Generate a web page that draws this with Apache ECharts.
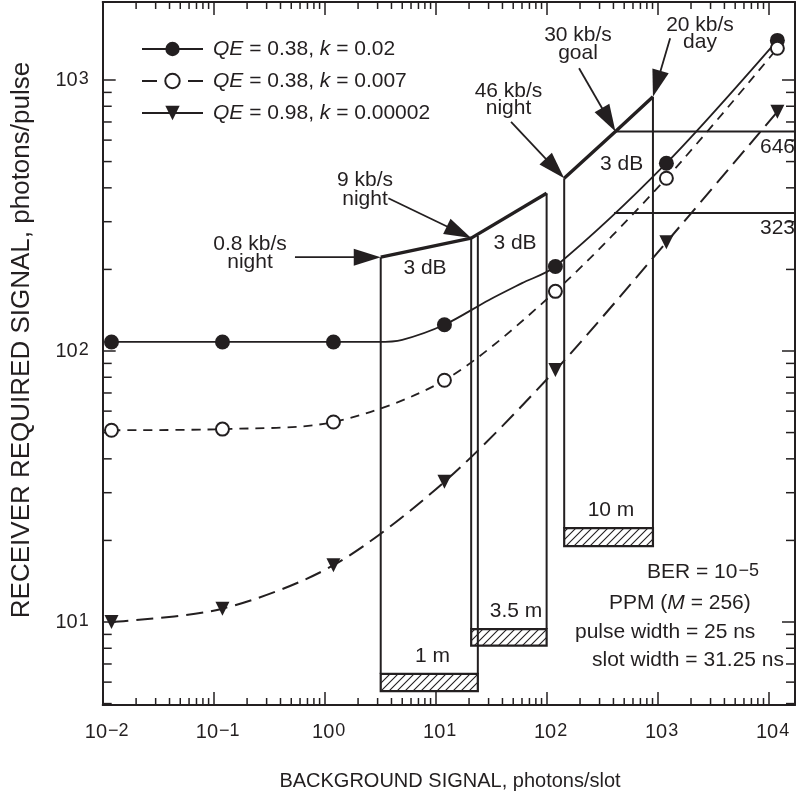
<!DOCTYPE html>
<html><head><meta charset="utf-8">
<script src="https://cdn.jsdelivr.net/npm/echarts@6/dist/echarts.min.js"></script>
<style>html,body{margin:0;padding:0;background:#fff}#c{width:798px;height:794px}</style>
</head><body><div id="c"></div>
<script>
const FONT = '"Liberation Sans", Arial, Helvetica, sans-serif';
const INK = '#231f20';

// ---- axis ranges and tick labels ----
const xRange = [0.01, 17300];
const yRange = [4.94, 1940];
const xDecades = [-2, -1, 0, 1, 2, 3, 4];
const yDecades = [0, 1, 2, 3];
const minorMultipliers = [2, 3, 4, 5, 6, 7, 8, 9];

// ---- series ----
const seriesNames = ['QE = 0.38, k = 0.02', 'QE = 0.38, k = 0.007', 'QE = 0.98, k = 0.00002'];
const markerX = [0.012, 0.12, 1.2, 12, 120, 1200, 12000];
const signalK002 = [108, 108, 108, 125, 205, 493, 1400];
const signalK0007 = [51, 51.5, 54.7, 78, 166, 434, 1309];
const signalK000002 = [10, 11.2, 16.2, 32.9, 85, 252, 764];
// extra points read along the k = 0.02 curve (no marker)
const kneeX = [3, 5, 30, 60];
const kneeY = [108, 110, 154, 178];

// ---- annotation geometry in data units ----
const heavyEdges = [
  [[3.2, 222], [20.9, 261]],
  [[20.9, 261], [100, 382]],
  [[144, 434], [417, 646], [908, 867]]
];
const thinEdges = [
  [[3.2, 6.43], [3.2, 222]],
  [[24, 6.43], [24, 266]],
  [[20.9, 9.42], [20.9, 261]],
  [[100, 9.42], [100, 382]],
  [[144, 22.2], [144, 434]],
  [[908, 22.2], [908, 867]],
  [[417, 646], [17300, 646]],
  [[405, 323], [17300, 323]]
];
const hatchBands = [ // xLeft, xRight, yBottom, yTop
  [3.2, 24, 5.56, 6.43],
  [20.9, 100, 8.18, 9.42],
  [144, 908, 19.05, 22.2]
];
const arrows = [ // tail x, tail y, tip x, tip y
  [0.54, 222, 3.2, 222],
  [3.75, 366, 20.9, 261],
  [47.8, 701, 144, 434],
  [196, 1105, 417, 646],
  [1297, 1426, 908, 867]
];

// ---- helpers ----
function buildCurve(xs, ys, ex, ey) {
  const pts = xs.map((x, i) => ({ value: [x, ys[i]] }));
  if (ex) ex.forEach((x, i) => pts.push({ value: [x, ey[i]], symbol: 'none' }));
  pts.sort((a, b) => a.value[0] - b.value[0]);
  return pts;
}
function minorTicks(decades, range) {
  const out = [];
  decades.forEach(d => minorMultipliers.forEach(m => {
    const v = m * Math.pow(10, d);
    if (v > range[0] && v < range[1]) out.push(v);
  }));
  return out;
}
function powLabel(v) {
  const e = Math.log10(v), r = Math.round(e);
  if (Math.abs(e - r) > 1e-6) return '';
  return '{b|10}{s|' + (r < 0 ? '\u2212' + (-r) : r) + '}';
}
const supRich = {
  b: { fontSize: 20, fontFamily: FONT, color: INK, lineHeight: 20, verticalAlign: 'bottom' },
  s: { fontSize: 18, fontFamily: FONT, color: INK, lineHeight: 18, verticalAlign: 'top', padding: [0, 0, 8, 1] }
};

const TS = 8;
const tile = document.createElement('canvas');
tile.width = tile.height = TS;
(function () {
  const c = tile.getContext('2d');
  c.fillStyle = '#fff'; c.fillRect(0, 0, TS, TS);
  c.strokeStyle = INK; c.lineWidth = 1.1; c.beginPath();
  c.moveTo(0, TS); c.lineTo(TS, 0);
  c.moveTo(-1, 1); c.lineTo(1, -1);
  c.moveTo(TS - 1, TS + 1); c.lineTo(TS + 1, TS - 1);
  c.stroke();
})();

const axisLineStyle = { color: INK, width: 2 };
const tickStyle = { inside: true, length: 13, lineStyle: { color: INK, width: 1.5 } };

function txt(x, y, text, opt) {
  opt = opt || {};
  return {
    type: 'text', x: x, y: y, silent: true, z: 100, rotation: opt.rotation || 0,
    style: {
      text: text, fill: INK, fontSize: opt.size || 21, fontFamily: FONT,
      align: opt.align || 'center', verticalAlign: 'middle',
      textAlign: opt.align || 'center', textVerticalAlign: 'middle',
      rich: opt.rich
    }
  };
}
const annRich = {
  n: { fontSize: 21, fontFamily: FONT, color: INK, lineHeight: 21 },
  i: { fontSize: 21, fontFamily: FONT, color: INK, lineHeight: 21, fontStyle: 'italic' },
  b: { fontSize: 21, fontFamily: FONT, color: INK, lineHeight: 21, verticalAlign: 'bottom' },
  s: { fontSize: 18, fontFamily: FONT, color: INK, lineHeight: 18, verticalAlign: 'top', padding: [0, 0, 8, 1] }
};

const chart = echarts.init(document.getElementById('c'), null, { renderer: 'canvas' });
chart.setOption({
  animation: false,
  backgroundColor: '#fff',
  textStyle: { fontFamily: FONT, color: INK },
  grid: { left: 102.7, right: -1, top: 2, bottom: 89 },
  legend: {
    orient: 'vertical', left: 136, top: 33, itemWidth: 61, itemHeight: 18, itemGap: 10,
    selectedMode: false,
    data: [
      { name: seriesNames[0] },
      { name: seriesNames[1], lineStyle: { type: [15, 31] } },
      { name: seriesNames[2], lineStyle: { type: 'solid' } }
    ],
    textStyle: {
      fontSize: 21, fontFamily: FONT, color: INK, lineHeight: 22, padding: [0, 0, 0, 5],
      rich: { i: { fontSize: 21, fontFamily: FONT, color: INK, lineHeight: 22, fontStyle: 'italic' } }
    },
    formatter: n => n.replace('QE', '{i|QE}').replace('k =', '{i|k} =')
  },
  xAxis: [
    { type: 'log', logBase: 10, min: xRange[0], max: xRange[1], position: 'bottom',
      axisLine: { lineStyle: axisLineStyle }, axisTick: tickStyle, splitLine: { show: false },
      axisLabel: { formatter: powLabel, rich: supRich, margin: 17, interval: 0, padding: [0, 0, 0, 8] } },
    { type: 'log', logBase: 10, min: xRange[0], max: xRange[1], position: 'top',
      axisLine: { lineStyle: axisLineStyle }, axisTick: tickStyle, splitLine: { show: false },
      axisLabel: { show: false } }
  ],
  yAxis: [
    { type: 'log', logBase: 10, min: yRange[0], max: yRange[1], position: 'left',
      axisLine: { lineStyle: axisLineStyle }, axisTick: tickStyle, splitLine: { show: false },
      axisLabel: { formatter: powLabel, rich: supRich, margin: 14, interval: 0 } },
    { type: 'log', logBase: 10, min: yRange[0], max: yRange[1], position: 'right',
      axisLine: { lineStyle: axisLineStyle }, axisTick: tickStyle, splitLine: { show: false },
      axisLabel: { show: false } }
  ],
  graphic: [
    txt(22, 340, 'RECEIVER REQUIRED SIGNAL, photons/pulse', { rotation: Math.PI / 2, size: 26 }),
    txt(450, 781, 'BACKGROUND SIGNAL, photons/slot', { size: 20 }),
    txt(250, 244, '0.8 kb/s'), txt(250, 262, 'night'),
    txt(365, 180, '9 kb/s'), txt(365, 199, 'night'),
    txt(508.5, 91.7, '46 kb/s'), txt(508.5, 108.5, 'night'),
    txt(578, 35, '30 kb/s'), txt(578, 53, 'goal'),
    txt(700, 25, '20 kb/s'), txt(700, 42, 'day'),
    txt(425, 268, '3 dB'), txt(515, 243, '3 dB'), txt(621.7, 164, '3 dB'),
    txt(777.5, 147.5, '646'), txt(777.5, 228, '323'),
    txt(432.5, 656, '1 m'), txt(516, 611, '3.5 m'), txt(611, 510, '10 m'),
    txt(647, 572.5, '{b|BER = 10}{s|\u22125}', { align: 'left', rich: annRich }),
    txt(609, 603, '{n|PPM (}{i|M}{n| = 256)}', { align: 'left', rich: annRich }),
    txt(575, 632, 'pulse width = 25 ns', { align: 'left' }),
    txt(592, 660, 'slot width = 31.25 ns', { align: 'left' })
  ],
  series: [
    { type: 'custom', name: 'xMinor', silent: true, z: 1,
      data: minorTicks(xDecades, xRange).map(v => [v, yRange[0]]),
      renderItem: (p, api) => {
        const v = api.value(0);
        const b = api.coord([v, yRange[0]]), t = api.coord([v, yRange[1]]);
        const st = { stroke: INK, lineWidth: 1.5 };
        return { type: 'group', children: [
          { type: 'line', shape: { x1: b[0], y1: b[1], x2: b[0], y2: b[1] - 7 }, style: st },
          { type: 'line', shape: { x1: t[0], y1: t[1], x2: t[0], y2: t[1] + 7 }, style: st }
        ] };
      } },
    { type: 'custom', name: 'yMinor', silent: true, z: 1,
      data: minorTicks(yDecades, yRange).map(v => [xRange[0], v]),
      renderItem: (p, api) => {
        const v = api.value(1);
        const l = api.coord([xRange[0], v]), r = api.coord([xRange[1], v]);
        const st = { stroke: INK, lineWidth: 1.5 };
        return { type: 'group', children: [
          { type: 'line', shape: { x1: l[0], y1: l[1], x2: l[0] + 9, y2: l[1] }, style: st },
          { type: 'line', shape: { x1: r[0], y1: r[1], x2: r[0] - 9, y2: r[1] }, style: st }
        ] };
      } },
    { type: 'custom', name: 'hatch', silent: true, z: 2,
      data: hatchBands, encode: { x: [0, 1], y: [2, 3] },
      renderItem: (p, api) => {
        const a = api.coord([api.value(0), api.value(2)]);
        const b = api.coord([api.value(1), api.value(3)]);
        return { type: 'rect', shape: { x: a[0], y: b[1], width: b[0] - a[0], height: a[1] - b[1] },
          style: { fill: { image: tile, repeat: 'repeat' }, stroke: INK, lineWidth: 2.2 } };
      } },
    { type: 'custom', name: 'thin', silent: true, z: 2,
      data: thinEdges.map(e => e[0]),
      renderItem: (p, api) => ({ type: 'polyline',
        shape: { points: thinEdges[p.dataIndex].map(pt => api.coord(pt)) },
        style: { stroke: INK, lineWidth: 2, fill: null } }) },
    { type: 'custom', name: 'heavy', silent: true, z: 3,
      data: heavyEdges.map(e => e[0]),
      renderItem: (p, api) => ({ type: 'polyline',
        shape: { points: heavyEdges[p.dataIndex].map(pt => api.coord(pt)) },
        style: { stroke: INK, lineWidth: 3.4, fill: null, lineJoin: 'miter' } }) },
    { type: 'custom', name: 'arrows', silent: true, z: 4,
      data: arrows, encode: { x: [0, 2], y: [1, 3] },
      renderItem: (p, api) => {
        const t = api.coord([api.value(0), api.value(1)]);
        const h = api.coord([api.value(2), api.value(3)]);
        const dx = h[0] - t[0], dy = h[1] - t[1], len = Math.hypot(dx, dy);
        const ux = dx / len, uy = dy / len, L = 27, W = 8.5;
        const bx = h[0] - ux * L, by = h[1] - uy * L;
        return { type: 'group', children: [
          { type: 'line', shape: { x1: t[0], y1: t[1], x2: bx + ux * 2, y2: by + uy * 2 },
            style: { stroke: INK, lineWidth: 1.8 } },
          { type: 'polygon', shape: { points: [h, [bx - uy * W, by + ux * W], [bx + uy * W, by - ux * W]] },
            style: { fill: INK } }
        ] };
      } },
    { name: seriesNames[0], type: 'line', z: 5, data: buildCurve(markerX, signalK002, kneeX, kneeY),
      symbol: 'circle', symbolSize: 15, showAllSymbol: true, smooth: 0.3,
      lineStyle: { color: INK, width: 1.8, type: 'solid' }, itemStyle: { color: INK } },
    { name: seriesNames[1], type: 'line', z: 6, data: buildCurve(markerX, signalK0007),
      symbol: 'emptyCircle', symbolSize: 13, showAllSymbol: true, smooth: 0.3,
      lineStyle: { color: INK, width: 1.8, type: [9, 7] }, itemStyle: { color: INK, borderWidth: 1.5 } },
    { name: seriesNames[2], type: 'line', z: 7, data: buildCurve(markerX, signalK000002),
      symbol: 'triangle', symbolRotate: 180, symbolSize: 14, showAllSymbol: true, smooth: 0.3,
      lineStyle: { color: INK, width: 2, type: [17, 8] }, itemStyle: { color: INK } }
  ]
});
</script></body></html>
